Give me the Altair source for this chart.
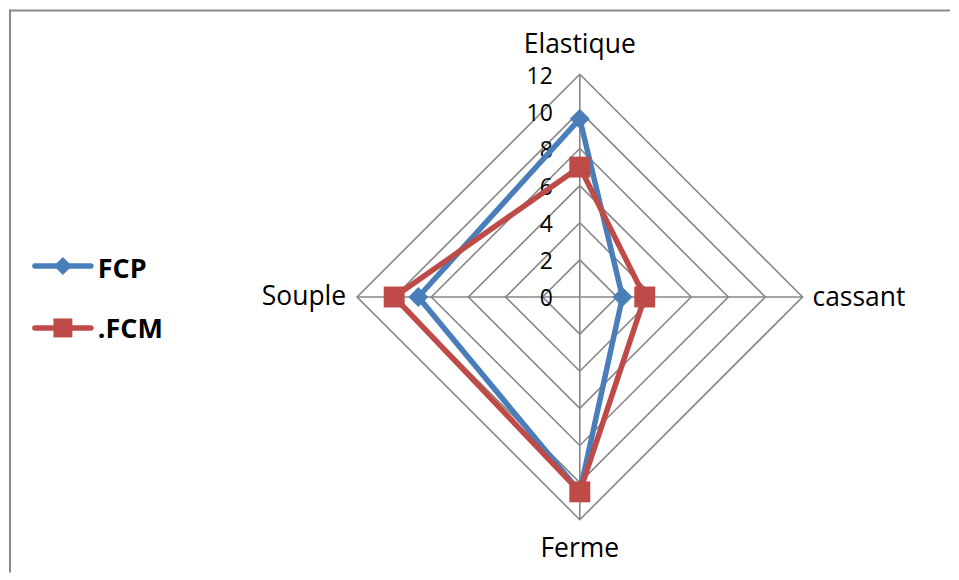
import altair as alt
import pandas as pd

# ---- data ----
categories = ["Elastique", "cassant", "Ferme", "Souple"]
series_names = ["FCP", ".FCM"]
fcp = [9.6, 2.3, 10.5, 8.7]
fcm = [7.0, 3.5, 10.5, 10.0]
ticks = [0, 2, 4, 6, 8, 10, 12]

colors = ["#4A7EBB", "#BE4B48"]
shapes = ["diamond", "square"]
sizes = [400, 440]
leg_sizes = [330, 360]
grid_color = "#868686"
FONT = "Open Sans"

W, H = 943, 564          # plot area
CX, CY = 572, 288        # centre of the radar in plot pixels
U = 18.6                 # pixels per value unit
N = len(categories)
RMAX = ticks[-1]

xs = alt.Scale(domain=[-CX / U, (W - CX) / U], nice=False, zero=False)
ys = alt.Scale(domain=[-(H - CY) / U, CY / U], nice=False, zero=False)


def polar(chart, rfield):
    return chart.transform_calculate(
        px=f"datum.{rfield} * sin(datum.idx * 2 * PI / {N})",
        py=f"datum.{rfield} * cos(datum.idx * 2 * PI / {N})",
        zx="0",
        zy="0",
    )


def pxX(px):   # plot pixel -> data x
    return (px - CX) / U


def pxY(py):   # plot pixel -> data y
    return (CY - py) / U


X = alt.X("px:Q", scale=xs, axis=None)
Y = alt.Y("py:Q", scale=ys, axis=None)

# ---- grid rings ----
ring_rows = []
for r in ticks[1:]:
    for k in range(N + 1):
        ring_rows.append({"r": r, "idx": k % N, "ord": k})
ring_df = pd.DataFrame(ring_rows)
rings = polar(alt.Chart(ring_df), "r").mark_line(
    color=grid_color, strokeWidth=1.6
).encode(x=X, y=Y, detail="r:N", order="ord:Q")

# ---- spokes ----
spoke_df = pd.DataFrame({"idx": list(range(N)), "r": [RMAX] * N})
spokes = polar(alt.Chart(spoke_df), "r").mark_rule(
    color=grid_color, strokeWidth=1.6
).encode(x=alt.X("zx:Q", scale=xs, axis=None), y=alt.Y("zy:Q", scale=ys, axis=None),
         x2="px:Q", y2="py:Q")

# ---- tick labels ----
tick_df = pd.DataFrame({"t": ticks})
tick_labels = alt.Chart(tick_df).transform_calculate(zx="0").mark_text(
    align="right", baseline="alphabetic", dx=-27, dy=9.5,
    font=FONT, fontSize=23, color="#000000"
).encode(
    x=alt.X("zx:Q", scale=xs, axis=None),
    y=alt.Y("t:Q", scale=ys, axis=None),
    text="t:Q",
)

# ---- category labels ----
cat_df = pd.DataFrame({"cat": categories, "idx": list(range(N)), "r": [RMAX] * N})
base_cat = polar(alt.Chart(cat_df), "r")
lab_style = dict(font=FONT, fontSize=26.5, color="#000000", baseline="alphabetic")
lab_top = base_cat.transform_filter("datum.idx == 0").mark_text(
    align="center", dy=-21, **lab_style).encode(x=X, y=Y, text="cat:N")
lab_right = base_cat.transform_filter("datum.idx == 1").mark_text(
    align="left", dx=10, dy=9, **lab_style).encode(x=X, y=Y, text="cat:N")
lab_bottom = base_cat.transform_filter("datum.idx == 2").mark_text(
    align="center", dy=37, **lab_style).encode(x=X, y=Y, text="cat:N")
lab_left = base_cat.transform_filter("datum.idx == 3").mark_text(
    align="right", dx=-11, dy=8.5, **lab_style).encode(x=X, y=Y, text="cat:N")

layers = [rings, spokes, tick_labels, lab_top, lab_right, lab_bottom, lab_left]

# ---- series + legend entries ----
for si, (name, vals, col, shp, sz, lsz) in enumerate(
        zip(series_names, [fcp, fcm], colors, shapes, sizes, leg_sizes)):
    rows = []
    for k in range(N + 1):
        i = k % N
        rows.append({"series": name, "idx": i, "ord": k, "value": vals[i]})
    df = pd.DataFrame(rows)
    base = polar(alt.Chart(df), "value")
    line = base.mark_line(color=col, strokeWidth=5.5, strokeJoin="miter").encode(
        x=X, y=Y, order="ord:Q")
    pts = base.transform_filter(f"datum.ord < {N}").mark_point(
        shape=shp, size=sz, filled=True, color=col, opacity=1).encode(x=X, y=Y)

    leg = alt.Chart(pd.DataFrame({"series": [name]})).transform_calculate(
        lx1=str(pxX(26)), lx2=str(pxX(82)), lxm=str(pxX(54)), ltx=str(pxX(89)),
        ly=str(pxY(257 + si * 62)), lty=str(pxY(269 + si * 60.5)),
    )
    leg_line = leg.mark_rule(color=col, strokeWidth=5.5, strokeCap="round").encode(
        x=alt.X("lx1:Q", scale=xs, axis=None), x2="lx2:Q",
        y=alt.Y("ly:Q", scale=ys, axis=None))
    leg_pt = leg.mark_point(shape=shp, size=lsz, filled=True, color=col, opacity=1).encode(
        x=alt.X("lxm:Q", scale=xs, axis=None), y=alt.Y("ly:Q", scale=ys, axis=None))
    leg_txt = leg.mark_text(
        align="left", baseline="alphabetic", font=FONT, fontSize=27,
        fontWeight="bold", color="#000000"
    ).encode(x=alt.X("ltx:Q", scale=xs, axis=None),
             y=alt.Y("lty:Q", scale=ys, axis=None), text="series:N")
    layers += [line, pts, leg_line, leg_pt, leg_txt]

# ---- frame (top and left edges visible) ----
frame_top = alt.Chart(pd.DataFrame({"a": [0]})).mark_rule(
    color="#8a8a8a", strokeWidth=2).encode(
    x=alt.value(0), x2=alt.value(W), y=alt.value(1))
frame_left = alt.Chart(pd.DataFrame({"a": [0]})).mark_rule(
    color="#8a8a8a", strokeWidth=2).encode(
    x=alt.value(1), y=alt.value(0), y2=alt.value(H))

layers += [frame_top, frame_left]

chart = alt.layer(*layers).properties(
    width=W, height=H, padding=0, background="#ffffff"
).configure_view(stroke=None)

chart.save("out.html", embed_options={"renderer": "svg", "actions": False})
